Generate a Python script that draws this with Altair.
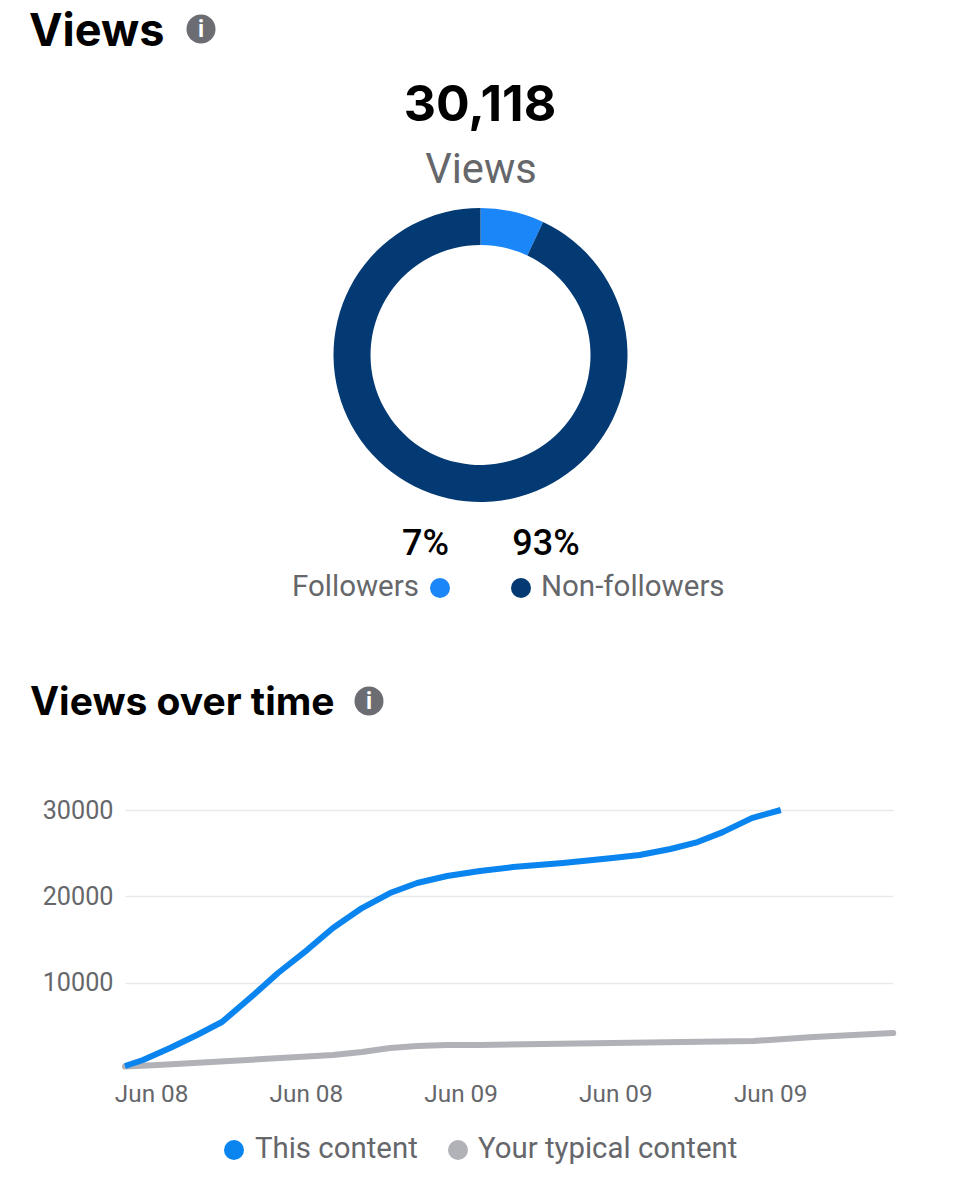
import altair as alt
import pandas as pd

# ---- data ----
START = pd.Timestamp("2024-06-08 08:00")
blue_hours = [0, 0.93, 2.33, 3.72, 5.01, 6.46, 7.91, 9.41, 10.75, 12.25, 13.7, 15.1,
              16.65, 18.35, 20.05, 22.64, 25.2, 26.6, 28.2, 29.6, 30.9, 32.4, 33.9]
blue_values = [350, 1040, 2430, 3940, 5440, 8220, 11120, 13780, 16330, 18640, 20380, 21540,
               22350, 22930, 23390, 23850, 24430, 24780, 25480, 26290, 27440, 29060, 30000]
gray_hours = [0, 1.7, 10.75, 12.25, 13.7, 15.1, 16.65, 18.35, 25.2, 32.5, 35.6, 39.71]
gray_values = [300, 460, 1620, 1970, 2430, 2660, 2780, 2780, 3010, 3240, 3700, 4170]
share_labels = ["Followers", "Non-followers"]
share_values = [7, 93]
tick_labels_y = [10000, 20000, 30000]

BLUE = "#0a84ee"
GRAY = "#b0b2b8"
TEXT_GRAY = "#65676b"
W, H = 768, 259
LEFT, TOP = 125, 810


def stamp(hours):
    return [(START + pd.Timedelta(hours=float(h))).strftime("%Y-%m-%dT%H:%M:%S") for h in hours]


def dt(ts):
    return alt.DateTime(year=ts.year, month=ts.strftime("%B"), date=ts.day,
                        hours=ts.hour, minutes=ts.minute)


x_ticks = [START + pd.Timedelta(minutes=81 + 480 * i) for i in range(5)]
x_domain = [dt(START), dt(START + pd.Timedelta(hours=39.71))]
x_enc = alt.X("t:T", title=None, scale=alt.Scale(domain=x_domain),
              axis=alt.Axis(values=[dt(t) for t in x_ticks], format="%b %d", grid=False,
                            domain=False, ticks=False, labelFont="Roboto", labelFontSize=24.3,
                            labelColor=TEXT_GRAY, labelPadding=13, labelFlush=False,
                            labelOverlap=False))
y_enc = alt.Y("v:Q", title=None, scale=alt.Scale(domain=[0, 30000], nice=False),
              axis=alt.Axis(values=tick_labels_y, format="d", grid=True, gridColor="#e8e9ec",
                            gridWidth=1.5, domain=False, ticks=False, labelFont="Roboto",
                            labelFontSize=25.2, labelColor=TEXT_GRAY, labelPadding=12))

gray_line = alt.Chart(pd.DataFrame({"t": stamp(gray_hours), "v": gray_values})).mark_line(
    color=GRAY, strokeWidth=6, strokeCap="round", strokeJoin="round", clip=False
).encode(x=x_enc, y=y_enc)
blue_line = alt.Chart(pd.DataFrame({"t": stamp(blue_hours), "v": blue_values})).mark_line(
    color=BLUE, strokeWidth=6, strokeCap="butt", strokeJoin="round", clip=False
).encode(x=x_enc, y=y_enc)


def text(s, px, py, size, color="#000000", font="Roboto", weight="normal", align="left"):
    return alt.Chart(pd.DataFrame({"s": [s]})).mark_text(
        font=font, fontSize=size, fontWeight=weight, color=color, align=align, baseline="alphabetic"
    ).encode(x=alt.value(px - LEFT), y=alt.value(py - TOP), text="s:N")


def dot(px, py, color, r=10):
    return alt.Chart(pd.DataFrame({"s": [1]})).mark_point(
        filled=True, opacity=1, color=color, size=4 * r * r, shape="circle"
    ).encode(x=alt.value(px - LEFT), y=alt.value(py - TOP))


def info(px, py):
    return [dot(px, py, "#6c6d72", r=14.5),
            text("i", px, py + 8, 23, color="#ffffff", weight="bold", align="center")]


donut = alt.Chart(pd.DataFrame({"k": share_labels, "p": share_values, "o": [0, 1]})).mark_arc(
    innerRadius=110, outerRadius=147
).encode(
    theta=alt.Theta("p:Q", stack=True),
    color=alt.Color("k:N", legend=None,
                    scale=alt.Scale(domain=share_labels, range=["#1b86f8", "#033a73"])),
    order=alt.Order("o:Q"),
    x=alt.value(480.5 - LEFT), y=alt.value(355 - TOP),
)

layers = [
    text("Views", 29, 46, 45, font="Inter", weight="bold"),
    *info(201, 29),
    text("30,118", 480, 121, 50, font="Inter", weight="bold", align="center"),
    text("Views", 481, 183, 41.7, color=TEXT_GRAY, align="center"),
    donut,
    text("7%", 425.5, 555, 36, weight=500, align="center"),
    text("93%", 546, 555, 36, weight=500, align="center"),
    text("Followers", 419, 596, 29.5, color=TEXT_GRAY, align="right"),
    dot(440, 588, "#1b86f8"),
    dot(521, 588, "#033a73"),
    text("Non-followers", 541, 596, 29.5, color=TEXT_GRAY),
    text("Views over time", 30, 715, 39, font="Inter", weight="bold"),
    *info(369, 701),
    gray_line,
    blue_line,
    dot(234, 1150, BLUE),
    text("This content", 255, 1158, 29.4, color=TEXT_GRAY),
    dot(458, 1150, GRAY),
    text("Your typical content", 478, 1158, 29.4, color=TEXT_GRAY),
]

chart = alt.layer(*layers).resolve_scale(
    color="independent", theta="independent"
).properties(
    width=W, height=H,
    autosize=alt.AutoSizeParams(type="none"),
    padding={"left": LEFT - 8, "top": TOP - 8, "right": 52, "bottom": 120},
    background="#ffffff",
).configure_view(stroke=None)

chart.save("out.html", embed_options={"renderer": "svg", "actions": False})
